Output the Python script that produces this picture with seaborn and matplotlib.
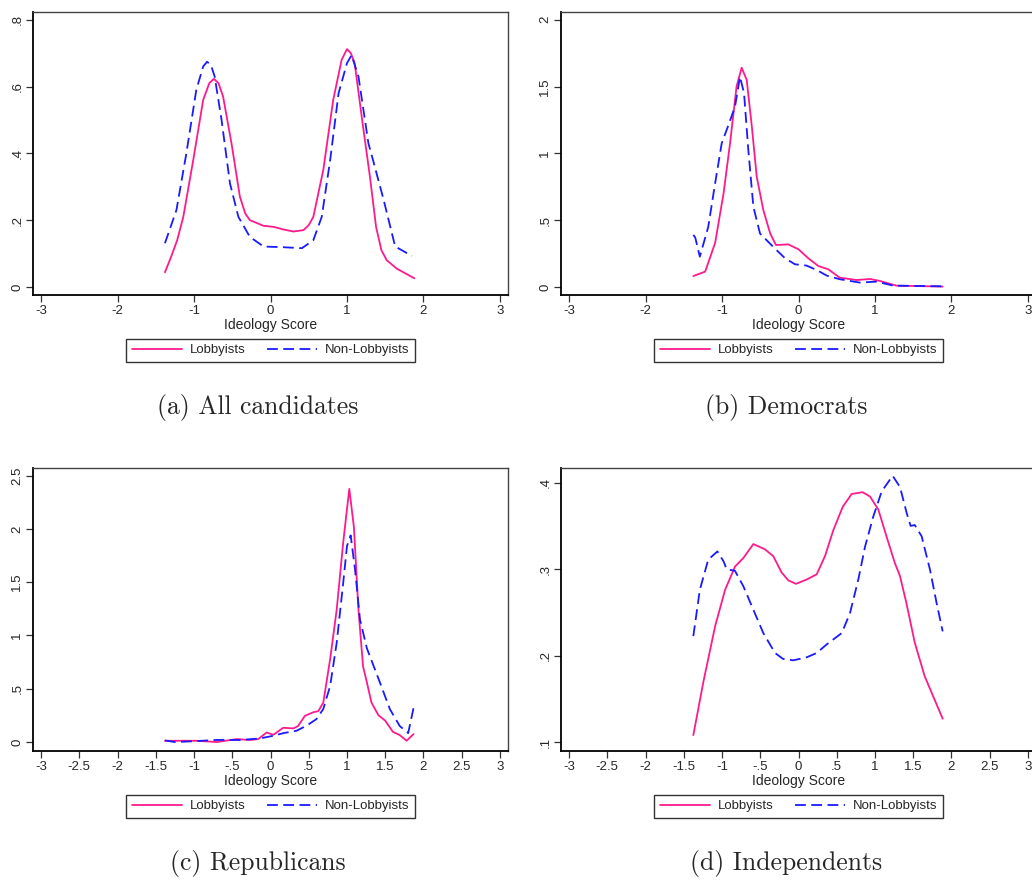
import numpy as np
import matplotlib as mpl
from matplotlib import pyplot as plt
import seaborn as sns
import pandas as pd

sns.set_style("ticks")
plt.rcParams['font.family'] = ['Liberation Sans', 'DejaVu Sans']

# ---- data (kernel density curves) ----
# (a) All candidates
a_lob_x = [-1.38, -1.30, -1.22, -1.14, -1.01, -0.88, -0.80, -0.74, -0.68, -0.62, -0.51, -0.40, -0.33, -0.27, -0.09, 0.04, 0.17, 0.30, 0.43, 0.50, 0.56, 0.69, 0.82, 0.93, 1.00, 1.05, 1.10, 1.21, 1.30, 1.38, 1.45, 1.52, 1.65, 1.88]
a_lob_y = [0.044, 0.09, 0.14, 0.21, 0.38, 0.56, 0.61, 0.623, 0.61, 0.57, 0.43, 0.27, 0.22, 0.20, 0.183, 0.18, 0.172, 0.166, 0.17, 0.185, 0.21, 0.35, 0.56, 0.68, 0.712, 0.70, 0.67, 0.48, 0.33, 0.18, 0.11, 0.08, 0.055, 0.026]
a_non_x = [-1.38, -1.23, -1.10, -0.97, -0.88, -0.83, -0.78, -0.73, -0.64, -0.53, -0.42, -0.27, -0.09, 0.17, 0.41, 0.56, 0.67, 0.78, 0.89, 1.00, 1.06, 1.15, 1.28, 1.34, 1.48, 1.63, 1.85]
a_non_y = [0.131, 0.23, 0.40, 0.59, 0.66, 0.674, 0.665, 0.63, 0.50, 0.31, 0.21, 0.15, 0.121, 0.119, 0.116, 0.14, 0.21, 0.38, 0.58, 0.67, 0.694, 0.63, 0.43, 0.38, 0.26, 0.121, 0.093]

# (b) Democrats
b_lob_x = [-1.375, -1.22, -1.09, -0.98, -0.895, -0.81, -0.743, -0.677, -0.61, -0.546, -0.46, -0.37, -0.294, -0.133, 0.0, 0.128, 0.26, 0.39, 0.54, 0.76, 0.935, 1.065, 1.28, 1.885]
b_lob_y = [0.082, 0.115, 0.33, 0.70, 1.075, 1.50, 1.641, 1.55, 1.20, 0.825, 0.576, 0.40, 0.314, 0.319, 0.282, 0.215, 0.157, 0.132, 0.07, 0.052, 0.06, 0.045, 0.01, 0.003]
b_non_x = [-1.375, -1.35, -1.29, -1.18, -1.09, -1.004, -0.917, -0.83, -0.765, -0.712, -0.656, -0.59, -0.503, -0.33, -0.176, -0.046, 0.107, 0.238, 0.37, 0.54, 0.80, 1.02, 1.24, 1.885]
b_non_y = [0.39, 0.37, 0.227, 0.45, 0.776, 1.075, 1.21, 1.35, 1.574, 1.45, 1.025, 0.60, 0.40, 0.30, 0.215, 0.17, 0.16, 0.127, 0.085, 0.058, 0.033, 0.04, 0.01, 0.005]

# (c) Republicans
c_lob_x = [-1.38, -0.965, -0.70, -0.44, -0.27, -0.16, -0.05, 0.037, 0.167, 0.30, 0.36, 0.45, 0.56, 0.625, 0.69, 0.78, 0.865, 0.95, 1.03, 1.09, 1.15, 1.21, 1.26, 1.32, 1.41, 1.50, 1.60, 1.69, 1.78, 1.87]
c_lob_y = [0.012, 0.012, 0.0, 0.028, 0.019, 0.028, 0.09, 0.068, 0.134, 0.128, 0.15, 0.246, 0.28, 0.29, 0.37, 0.78, 1.24, 1.87, 2.376, 2.02, 1.24, 0.71, 0.56, 0.37, 0.253, 0.20, 0.096, 0.065, 0.012, 0.075]
c_non_x = [-1.38, -1.25, -1.0, -0.7, -0.4, -0.137, 0.037, 0.17, 0.34, 0.47, 0.60, 0.69, 0.78, 0.865, 0.95, 1.00, 1.048, 1.105, 1.17, 1.26, 1.43, 1.56, 1.69, 1.80, 1.87]
c_non_y = [0.015, 0.0, 0.008, 0.02, 0.019, 0.034, 0.059, 0.084, 0.106, 0.153, 0.215, 0.31, 0.527, 0.93, 1.49, 1.84, 1.94, 1.62, 1.15, 0.88, 0.56, 0.31, 0.15, 0.084, 0.32]

# (d) Independents
d_lob_x = [-1.375, -1.245, -1.09, -0.96, -0.83, -0.72, -0.59, -0.44, -0.33, -0.22, -0.133, -0.033, 0.107, 0.238, 0.346, 0.455, 0.578, 0.695, 0.839, 0.935, 1.043, 1.15, 1.26, 1.327, 1.41, 1.52, 1.65, 1.76, 1.885]
d_lob_y = [0.108, 0.169, 0.234, 0.276, 0.303, 0.313, 0.329, 0.323, 0.315, 0.296, 0.287, 0.283, 0.288, 0.294, 0.315, 0.345, 0.372, 0.387, 0.389, 0.384, 0.369, 0.338, 0.307, 0.292, 0.261, 0.215, 0.176, 0.153, 0.127]
d_non_x = [-1.375, -1.29, -1.18, -1.06, -0.98, -0.94, -0.83, -0.72, -0.59, -0.46, -0.307, -0.20, -0.068, 0.107, 0.238, 0.37, 0.565, 0.673, 0.782, 0.87, 0.978, 1.088, 1.231, 1.327, 1.414, 1.466, 1.52, 1.61, 1.72, 1.805, 1.885]
d_non_y = [0.2225, 0.276, 0.311, 0.3205, 0.309, 0.30, 0.298, 0.28, 0.253, 0.226, 0.203, 0.196, 0.1945, 0.198, 0.203, 0.213, 0.226, 0.249, 0.288, 0.326, 0.361, 0.39, 0.408, 0.395, 0.365, 0.35, 0.351, 0.338, 0.299, 0.261, 0.228]

groups = ['Lobbyists', 'Non-Lobbyists']
captions = ['(a) All candidates', '(b) Democrats', '(c) Republicans', '(d) Independents']
xticks_top = [-3, -2, -1, 0, 1, 2, 3]
xticks_bot = [-3, -2.5, -2, -1.5, -1, -0.5, 0, 0.5, 1, 1.5, 2, 2.5, 3]
yticks = [[0, 0.2, 0.4, 0.6, 0.8], [0, 0.5, 1, 1.5, 2], [0, 0.5, 1, 1.5, 2, 2.5], [0.1, 0.2, 0.3, 0.4]]
ylims = [(-0.024, 0.823), (-0.06, 2.058), (-0.084, 2.572), (0.0896, 0.417)]

panels = [(a_lob_x, a_lob_y, a_non_x, a_non_y), (b_lob_x, b_lob_y, b_non_x, b_non_y),
          (c_lob_x, c_lob_y, c_non_x, c_non_y), (d_lob_x, d_lob_y, d_non_x, d_non_y)]


def stata_fmt(v, pos=None):
    s = f"{v:g}"
    return s.replace("0.", ".") if s not in ("0",) else s


W, H = 1032, 880
fig = plt.figure(figsize=(W / 100, H / 100), dpi=100)
# axes boxes in pixels: left, top
boxes = [(33, 12), (561, 12), (33, 468), (561, 468)]
ax_w, ax_h = 475, 283
palette = {'Lobbyists': '#ff1a8c', 'Non-Lobbyists': '#1a1aff'}

for i, ((lx, ly, nx, ny), (bl, bt)) in enumerate(zip(panels, boxes)):
    ax = fig.add_axes([bl / W, 1 - (bt + ax_h) / H, ax_w / W, ax_h / H])
    df = pd.concat([
        pd.DataFrame({'score': lx, 'density': ly, 'group': 'Lobbyists'}),
        pd.DataFrame({'score': nx, 'density': ny, 'group': 'Non-Lobbyists'}),
    ], ignore_index=True)
    sns.lineplot(data=df, x='score', y='density', hue='group', style='group',
                 hue_order=groups, style_order=groups, palette=palette,
                 dashes={'Lobbyists': '', 'Non-Lobbyists': (6, 3)},
                 sort=False, estimator=None, lw=1.3, ax=ax, legend=False)
    ax.set_xlim(-3.105, 3.105)
    ax.set_ylim(*ylims[i])
    ax.set_xticks(xticks_top if i < 2 else xticks_bot)
    ax.set_yticks(yticks[i])
    ax.xaxis.set_major_formatter(mpl.ticker.FuncFormatter(stata_fmt))
    ax.yaxis.set_major_formatter(mpl.ticker.FuncFormatter(stata_fmt))
    for lab in ax.get_yticklabels():
        lab.set_rotation(90)
        lab.set_va('center')
    ax.tick_params(axis='both', length=5, width=0.9, color='#333333', labelsize=9.5, pad=2)
    ax.set_xlabel('Ideology Score', fontsize=10, labelpad=1)
    ax.set_ylabel('')
    for side in ['left', 'bottom']:
        ax.spines[side].set_linewidth(1.3)
        ax.spines[side].set_color('black')
    for side in ['top', 'right']:
        ax.spines[side].set_visible(True)
        ax.spines[side].set_linewidth(1.0)
        ax.spines[side].set_color('#444444')

    handles = [mpl.lines.Line2D([], [], color=palette['Lobbyists'], lw=1.3),
               mpl.lines.Line2D([], [], color=palette['Non-Lobbyists'], lw=1.3, dashes=(6, 3))]
    leg = ax.legend(handles, groups, loc='upper center', bbox_to_anchor=(0.5, -0.155), ncol=2,
                    frameon=True, fancybox=False, edgecolor='black', fontsize=9.5,
                    handlelength=3.8, columnspacing=1.6, handletextpad=0.6,
                    borderpad=0.4, borderaxespad=0)
    leg.get_frame().set_linewidth(1.0)

    cx = (bl + 225) / W
    cy = 1 - (bt + 395) / H
    fig.text(cx, cy, captions[i], ha='center', va='center', family='cmr10', fontsize=18.5)

fig.savefig('out.png', dpi=100, facecolor='white')
